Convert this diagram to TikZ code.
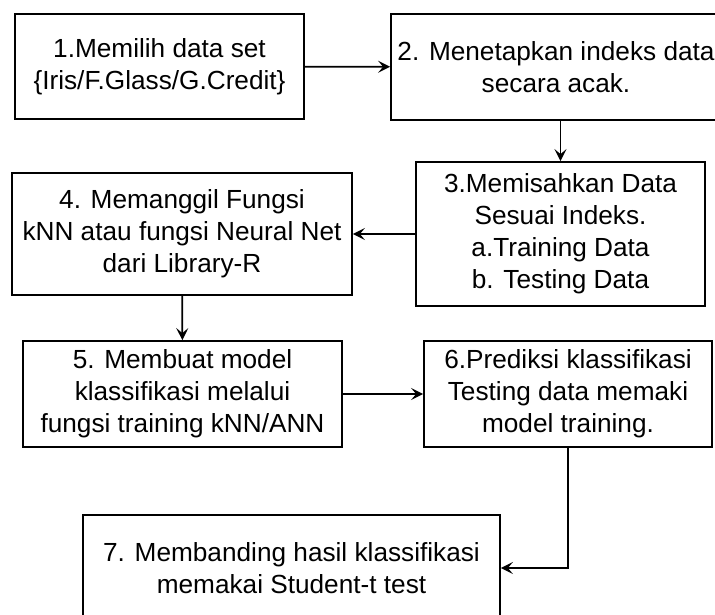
\documentclass[tikz,border=0pt]{standalone}
\usepackage{fontspec}
\setmainfont{Liberation Sans}
\usetikzlibrary{arrows.meta}

\begin{document}
\begin{tikzpicture}[x=0.5pt, y=-0.5pt,
        box/.style={draw, line width=0.9pt, inner sep=0pt, align=center,
            font=\fontsize{13.1pt}{16pt}\selectfont},
        arr/.style={line width=0.9pt,
            -{Stealth[length=6pt, width=6pt, inset=2.5pt]}}]
    \useasboundingbox (0,0) rectangle (715,614);
    \clip (0,0) rectangle (715,614);
    \node[box, minimum width=144.5pt, minimum height=52.5pt] (n-1)
        at (159.5,66.5) {1.Memilih data set\\\{Iris/F.Glass/G.Credit\}};
    \node[box, minimum width=165pt, minimum height=53pt] (n-2)
        at (556,67) {2. Menetapkan indeks data\\secara acak.};
    \node[box, minimum width=144.5pt, minimum height=72pt] (n-3)
        at (560.5,234) {3.Memisahkan Data\\Sesuai Indeks.\\a.Training Data\\b. Testing Data};
    \node[box, minimum width=170pt, minimum height=61pt] (n-4)
        at (182,234) {4. Memanggil Fungsi\\kNN atau fungsi Neural Net\\dari Library-R};
    \node[box, minimum width=159.5pt, minimum height=53pt] (n-5)
        at (182.5,394) {5. Membuat model\\klassifikasi melalui\\fungsi training kNN/ANN};
    \node[box, minimum width=144pt, minimum height=53pt] (n-6)
        at (568,394) {6.Prediksi klassifikasi\\Testing data memaki\\model training.};
    \node[box, minimum width=208.5pt, minimum height=53pt] (n-7)
        at (291.5,568) {7. Membanding hasil klassifikasi\\memakai Student-t test};
    % straight connectors
    \foreach \a/\b in {1/2,3/4,4/5,5/6}
        \draw[arr] (n-\a) -- (n-\b);
    \draw[arr] (n-3.north |- n-2.south) -- (n-3.north);
    \draw[arr] (n-6.south) |- (n-7.east);
\end{tikzpicture}
\end{document}
